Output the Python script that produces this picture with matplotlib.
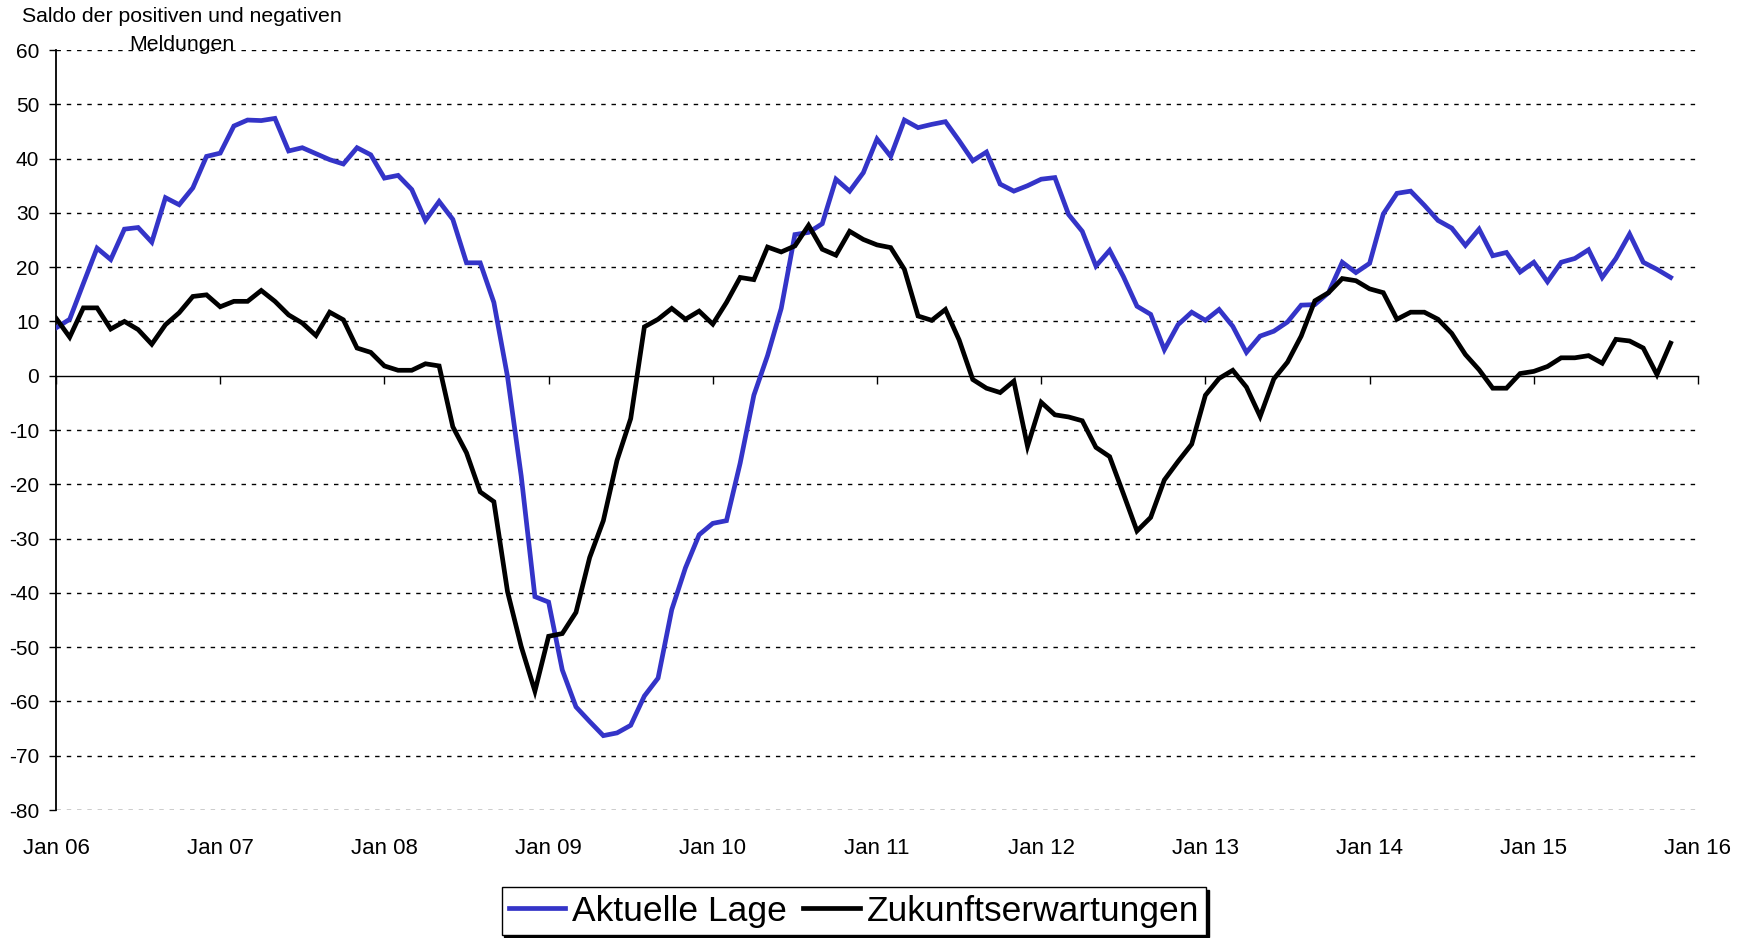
import numpy as np
import matplotlib
matplotlib.use('Agg')
import matplotlib.pyplot as plt

plt.rcParams['font.family'] = ['Liberation Sans', 'DejaVu Sans']
plt.rcParams['axes.unicode_minus'] = False

# Monatswerte Jan 2006 bis Nov 2015 (Saldo der Meldungen)
aktuelle_lage = [
    8.8, 10.4, 17.0, 23.5, 21.4, 27.0, 27.3, 24.6, 32.8, 31.5, 34.6, 40.4,
    41.0, 46.0, 47.1, 47.0, 47.4, 41.4, 42.0, 40.9, 39.8, 39.0, 42.0, 40.7,
    36.4, 36.9, 34.3, 28.6, 32.1, 28.8, 20.8, 20.8, 13.5, -0.2, -18.5, -40.7,
    -41.7, -54.2, -61.0, -63.7, -66.3, -65.8, -64.4, -59.0, -55.7, -43.1, -35.4, -29.3,
    -27.2, -26.7, -16.1, -3.6, 3.7, 12.4, 26.0, 26.4, 28.0, 36.2, 34.0, 37.4,
    43.6, 40.4, 47.1, 45.7, 46.3, 46.8, 43.3, 39.6, 41.2, 35.3, 34.0, 35.0,
    36.2, 36.5, 29.7, 26.6, 20.2, 23.1, 18.3, 12.8, 11.3, 4.8, 9.4, 11.7,
    10.2, 12.2, 9.1, 4.3, 7.3, 8.2, 9.9, 13.0, 13.1, 15.3, 20.9, 19.0,
    20.7, 29.8, 33.6, 34.0, 31.4, 28.6, 27.2, 24.0, 27.0, 22.1, 22.7, 19.1,
    20.9, 17.3, 20.9, 21.6, 23.2, 18.1, 21.6, 26.1, 20.9, 19.6, 18.1,
]
zukunftserwartungen = [
    10.6, 7.1, 12.5, 12.5, 8.6, 10.0, 8.5, 5.8, 9.4, 11.6, 14.6, 14.9,
    12.7, 13.7, 13.7, 15.7, 13.7, 11.2, 9.7, 7.4, 11.7, 10.3, 5.1, 4.3,
    1.8, 1.0, 1.0, 2.2, 1.8, -9.4, -14.2, -21.4, -23.2, -39.8, -49.9, -58.1,
    -48.0, -47.5, -43.6, -33.5, -26.7, -15.6, -7.9, 9.0, 10.4, 12.4, 10.4, 11.9,
    9.5, 13.5, 18.1, 17.7, 23.7, 22.8, 23.9, 27.7, 23.3, 22.2, 26.6, 25.1,
    24.1, 23.6, 19.6, 11.0, 10.2, 12.2, 6.6, -0.7, -2.3, -3.1, -1.0, -13.0,
    -4.9, -7.2, -7.6, -8.3, -13.2, -14.9, -21.7, -28.6, -26.1, -19.2, -15.8, -12.6,
    -3.6, -0.5, 1.0, -2.1, -7.5, -0.6, 2.5, 7.3, 13.8, 15.3, 17.9, 17.5,
    16.0, 15.3, 10.4, 11.7, 11.7, 10.4, 7.8, 3.9, 1.1, -2.3, -2.3, 0.4,
    0.8, 1.7, 3.3, 3.3, 3.7, 2.3, 6.7, 6.4, 5.1, 0.2, 6.0,
]
jahr_labels = ['Jan 06', 'Jan 07', 'Jan 08', 'Jan 09', 'Jan 10', 'Jan 11',
               'Jan 12', 'Jan 13', 'Jan 14', 'Jan 15', 'Jan 16']
y_ticks = list(range(-80, 61, 10))

monate = np.arange(len(aktuelle_lage))
jahr_pos = np.arange(len(jahr_labels)) * 12

fig = plt.figure(figsize=(17.54, 9.38), dpi=100)
ax = fig.add_axes([56 / 1754, 1 - 810 / 938, (1698 - 56) / 1754, 760 / 938])

# Gitterlinien (gestrichelt), ausser bei 0
for v in y_ticks:
    if v != 0:
        ax.axhline(v, color='black', lw=1.0, ls=(0, (3.2, 4.2)), zorder=1)

l1, = ax.plot(monate, aktuelle_lage, color='#3434c8', lw=3.4, zorder=3,
              solid_joinstyle='miter')
l2, = ax.plot(monate, zukunftserwartungen, color='black', lw=3.4, zorder=3,
              solid_joinstyle='miter')

ax.set_xlim(0, 120)
ax.set_ylim(-80, 60)
ax.set_yticks(y_ticks)
ax.tick_params(axis='y', direction='out', length=5, width=1, pad=7, labelsize=15)

for s in ['top', 'right']:
    ax.spines[s].set_visible(False)
ax.spines['bottom'].set_position(('data', 0))
ax.spines['bottom'].set_linewidth(1)
ax.spines['left'].set_linewidth(1.3)
ax.set_xticks(jahr_pos)
ax.set_xticklabels([])
ax.tick_params(axis='x', direction='out', length=6, width=1)

# Beschriftung der Jahre unten
for p, lab in zip(jahr_pos, jahr_labels):
    ax.text(p, -0.05, lab, transform=ax.get_xaxis_transform(), ha='center',
            va='center', fontsize=16, clip_on=False)

fig.text(182 / 1754, 1 - 17 / 938, 'Saldo der positiven und negativen',
         ha='center', va='center', fontsize=15.3)
fig.text(182 / 1754, 1 - 45 / 938, 'Meldungen', ha='center', va='center',
         fontsize=15.3)

leg = fig.legend([l1, l2], ['Aktuelle Lage', 'Zukunftserwartungen'],
                 loc='center', bbox_to_anchor=(854 / 1754, 1 - 911 / 938),
                 ncol=2, fontsize=25.5, frameon=True, fancybox=False,
                 shadow={'color': 'black', 'alpha': 1},
                 handlelength=1.6, handletextpad=0.2, columnspacing=0.45,
                 borderpad=0.2, borderaxespad=0)
leg.get_frame().set_edgecolor('black')
leg.get_frame().set_linewidth(1)

fig.savefig('out.png', dpi=100)
